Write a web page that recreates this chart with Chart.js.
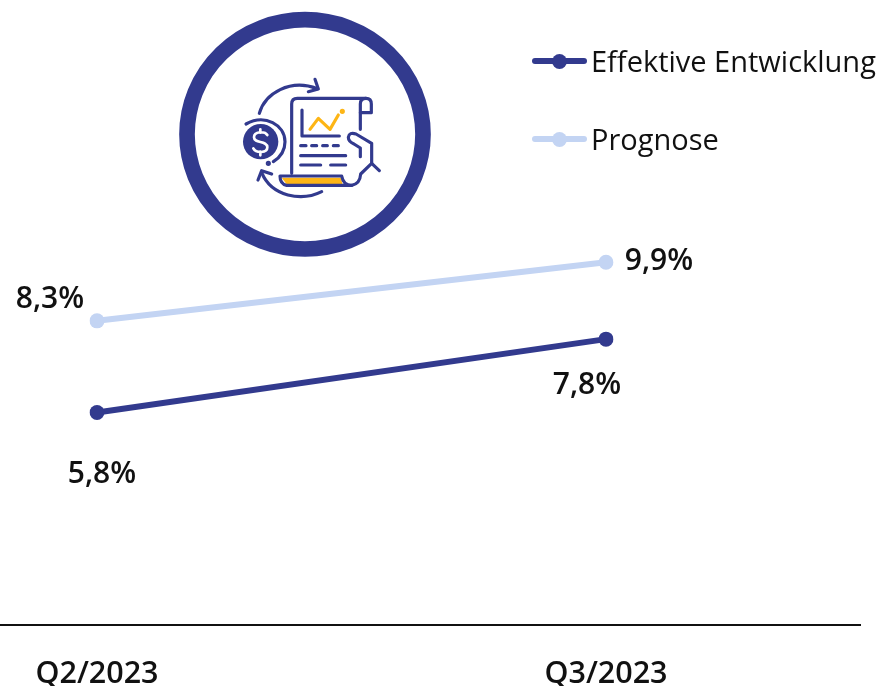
<!DOCTYPE html>
<html lang="de">
<head>
<meta charset="utf-8">
<title>Effektive Entwicklung und Prognose</title>
<script src="https://cdn.jsdelivr.net/npm/chart.js@4"></script>
<style>
  html, body { margin: 0; padding: 0; background: #fff; }
  #wrap { position: relative; width: 883px; height: 686px; overflow: hidden; font-family: "Open Sans", sans-serif; }
  #chart { position: absolute; left: 0; top: 0; }
  #icon { position: absolute; left: 170px; top: 0; }
  .legend-item { position: absolute; left: 532px; height: 40px; line-height: 40px; font-size: 29px; color: #111; white-space: nowrap; }
  .legend-item .swatch { position: absolute; left: 0; top: 17px; width: 55px; height: 6px; border-radius: 3px; }
  .legend-item .dot { position: absolute; left: 20px; top: 13px; width: 15px; height: 15px; border-radius: 50%; }
  .legend-item .name { position: absolute; left: 59px; top: 0; }
</style>
</head>
<body>
<div id="wrap">
  <canvas id="chart" width="883" height="686"></canvas>

  <svg id="icon" width="270" height="270" viewBox="0 0 810 810" fill="none" stroke="#323a8e" stroke-width="9.5" stroke-linecap="round" stroke-linejoin="round">
    <ellipse cx="405" cy="403" rx="354" ry="344" stroke-width="47"/>
    <!-- arrows round the document -->
    <path d="M268 340C285 280 360 235 442 266"/>
    <path d="M435 238L445 267L415 275"/>
    <path d="M455 575C395 605 305 590 275 518"/>
    <path d="M264 540L275 512L305 522"/>
    <!-- coin -->
    <circle cx="272" cy="425" r="53" fill="#323a8e" stroke="none"/>
    <path d="M228 372C285 340 345 375 345 425C345 450 330 472 310 485"/>
    <circle cx="295" cy="490" r="3" fill="#323a8e"/>
    <path d="M292 405C285 393 252 393 252 412C252 432 292 420 292 442C292 460 258 460 250 445M271 388V398M271 455V466" stroke="#fff" stroke-width="8"/>
    <!-- document -->
    <path d="M365 520V312Q365 295 382 295H588Q604 295 604 312V338H571V388"/>
    <path d="M571 338V312Q571 295 588 295"/>
    <path d="M396 330V408H508"/>
    <path d="M392 437H408M425 437H440M458 437H472M490 437H505M392 467H527M392 495H452M482 495H527"/>
    <!-- receipt bottom and hand -->
    <path d="M335 533H512L518 553H350Z" fill="#fdb515" stroke="none"/>
    <path d="M330 528H515Q520 556 545 556H350Q330 552 330 528Z"/>
    <path d="M545 556Q570 552 572 522L605 490V430L558 402Q538 395 535 412Q535 425 552 432L571 444V470"/>
    <path d="M605 490L628 512"/>
    <!-- small chart line -->
    <path d="M420 388L445 355L480 388L505 345" stroke="#fdb515"/>
    <circle cx="517" cy="334" r="3" fill="#fdb515" stroke="#fdb515"/>
  </svg>

  <div class="legend-item" style="top:41px">
    <span class="swatch" style="background:#323a8e"></span><span class="dot" style="background:#323a8e"></span>
    <span class="name">Effektive Entwicklung</span>
  </div>
  <div class="legend-item" style="top:119px">
    <span class="swatch" style="background:#c3d4f3"></span><span class="dot" style="background:#c3d4f3"></span>
    <span class="name">Prognose</span>
  </div>
</div>

<script>
const quarters = ['Q2/2023', 'Q3/2023'];
const effektiv = [5.8, 7.8];
const prognose = [8.3, 9.9];
const effektivLabels = ['5,8%', '7,8%'];
const prognoseLabels = ['8,3%', '9,9%'];

const darkBlue = '#323a8e';
const lightBlue = '#c3d4f3';
const labelFont = '600 30px "Open Sans", sans-serif';

// value labels sit at hand-picked offsets from their point, like in the original
const labelOffsets = [
  [[5, 62], [-19, 46]],
  [[-47, -21], [53, -1]],
];

const valueLabels = {
  id: 'valueLabels',
  afterDatasetsDraw(chart) {
    const ctx = chart.ctx;
    ctx.save();
    ctx.font = labelFont;
    ctx.fillStyle = '#111';
    ctx.textAlign = 'center';
    ctx.textBaseline = 'middle';
    [effektivLabels, prognoseLabels].forEach((texts, i) => {
      chart.getDatasetMeta(i).data.forEach((pt, j) => {
        const [dx, dy] = labelOffsets[i][j];
        ctx.fillText(texts[j], pt.x + dx, pt.y + dy);
      });
    });
    ctx.restore();
  },
};

// the axis line runs past the first and last category
const baseline = {
  id: 'baseline',
  beforeDatasetsDraw(chart) {
    const ctx = chart.ctx;
    const y = chart.scales.y.getPixelForValue(0);
    ctx.save();
    ctx.strokeStyle = '#111';
    ctx.lineWidth = 2;
    ctx.beginPath();
    ctx.moveTo(0, y);
    ctx.lineTo(861, y);
    ctx.stroke();
    ctx.restore();
  },
};

new Chart(document.getElementById('chart'), {
  type: 'line',
  data: {
    labels: quarters,
    datasets: [
      {
        label: 'Effektive Entwicklung',
        data: effektiv,
        borderColor: darkBlue,
        backgroundColor: darkBlue,
        borderWidth: 6,
        pointRadius: 7.5,
        pointHoverRadius: 7.5,
        pointBorderWidth: 0,
        tension: 0,
      },
      {
        label: 'Prognose',
        data: prognose,
        borderColor: lightBlue,
        backgroundColor: lightBlue,
        borderWidth: 6,
        pointRadius: 7.5,
        pointHoverRadius: 7.5,
        pointBorderWidth: 0,
        tension: 0,
      },
    ],
  },
  options: {
    responsive: false,
    animation: false,
    layout: { padding: { left: 97, right: 277, top: 0, bottom: 0 } },
    scales: {
      x: {
        offset: false,
        grid: { display: false, drawTicks: false },
        border: { display: false },
        afterFit: (scale) => { scale.height = 61; },
        ticks: {
          padding: 31,
          maxRotation: 0,
          autoSkip: false,
          align: 'center',
          color: '#111',
          font: { family: '"Open Sans", sans-serif', size: 30.5, weight: '600' },
        },
      },
      y: {
        display: false,
        min: 0,
        max: 16.85,
      },
    },
    plugins: {
      legend: { display: false },
      tooltip: { enabled: false },
    },
  },
  plugins: [baseline, valueLabels],
});
</script>
</body>
</html>
